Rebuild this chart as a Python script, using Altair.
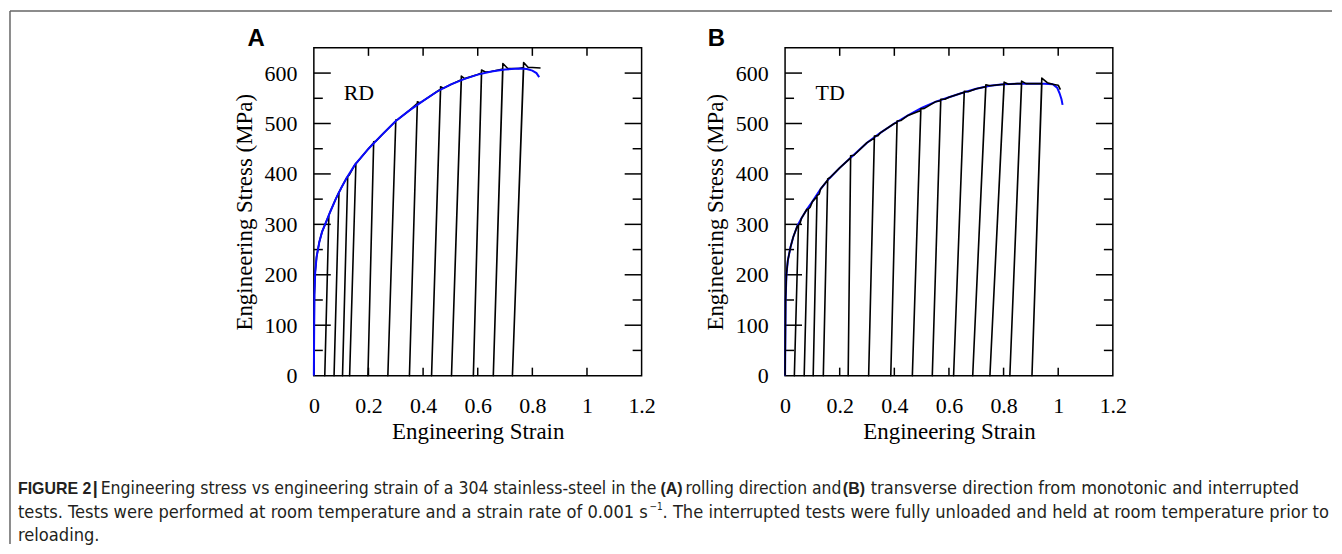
import altair as alt
import pandas as pd

# ---------------- data ----------------
# Panel A (RD): monotonic test (blue)
A_mono_strain = [0, 0.002, 0.005, 0.01, 0.02, 0.03, 0.045, 0.06, 0.08, 0.1, 0.12, 0.15, 0.2, 0.25,
                 0.3, 0.35, 0.4, 0.45, 0.5, 0.55, 0.6, 0.65, 0.7, 0.75, 0.78, 0.8, 0.815, 0.825]
A_mono_stress = [0, 160, 205, 235, 265, 285, 305, 325, 350, 372, 392, 418, 450, 478,
                 505, 526, 545, 563, 577, 588, 597, 603, 607, 609, 608, 605, 600, 592]
# Panel A interrupted test (black)
A_bottom = [0.040, 0.074, 0.105, 0.131, 0.198, 0.271, 0.350, 0.431, 0.504, 0.584, 0.657, 0.727]
A_top_strain = [0.055, 0.092, 0.124, 0.154, 0.219, 0.300, 0.379, 0.464, 0.540, 0.614, 0.692, 0.768]
A_pre_stress = [318, 364, 395, 421, 462, 505, 540, 568, 587, 600, 608, 611]
A_peak_stress = [318, 364, 395, 421, 464, 507, 543, 573, 594, 606, 619, 621]
A_settle_strain = [0.06, 0.097, 0.13, 0.16, 0.227, 0.308, 0.388, 0.474, 0.552, 0.628, 0.71, 0.785]
A_settle_stress = [325, 368, 398, 424, 465, 508, 541, 570, 589, 602, 609, 611]
A_tail_strain = [0.80, 0.83]
A_tail_stress = [611, 610]

# Panel B (TD): monotonic test (blue)
B_mono_strain = [0, 0.002, 0.005, 0.01, 0.02, 0.03, 0.045, 0.06, 0.08, 0.1, 0.13, 0.16, 0.2, 0.25,
                 0.3, 0.35, 0.4, 0.45, 0.5, 0.55, 0.6, 0.65, 0.7, 0.75, 0.8, 0.85, 0.9, 0.95,
                 0.98, 0.996, 1.005, 1.012, 1.016]
B_mono_stress = [0, 150, 200, 228, 255, 275, 297, 312, 330, 345, 370, 390, 412, 437,
                 462, 482, 500, 516, 531, 543, 552, 561, 569, 575, 578, 579, 579, 579,
                 578, 571, 560, 548, 537]
# Panel B interrupted test (black)
B_bottom = [0.034, 0.070, 0.103, 0.140, 0.231, 0.306, 0.387, 0.466, 0.539, 0.617, 0.687, 0.750, 0.823, 0.904]
B_top_strain = [0.049, 0.085, 0.117, 0.156, 0.240, 0.327, 0.410, 0.497, 0.570, 0.656, 0.735, 0.802, 0.866, 0.940]
B_pre_stress = [298, 328, 355, 388, 432, 471, 502, 526, 545, 561, 573, 578, 579, 579]
B_peak_stress = [298, 330, 357, 390, 436, 475, 505, 529, 548, 564, 577, 582, 584, 590]
B_settle_strain = [0.055, 0.092, 0.125, 0.165, 0.252, 0.34, 0.425, 0.51, 0.585, 0.67, 0.75, 0.818, 0.882, 0.96]
B_settle_stress = [302, 334, 360, 393, 437, 476, 506, 530, 548, 563, 575, 578, 579, 581]
B_tail_strain = [0.98, 1.0, 1.008]
B_tail_stress = [578, 576, 567]

X_TICK_LABELS = [0, 0.2, 0.4, 0.6, 0.8, 1, 1.2]
X_INNER_TICKS = [0.2, 0.4, 0.6, 0.8, 1.0]
Y_TICK_LABELS = [0, 100, 200, 300, 400, 500, 600]
Y_MAJOR_TICKS = [100, 200, 300, 400, 500, 600]
Y_MINOR_TICKS = [50, 150, 250, 350, 450, 550]

PANEL_LETTERS = ["A", "B"]
PANEL_TAGS = ["RD", "TD"]
TAG_POS = (0.165, 560)

CAPTION_1 = ["FIGURE 2",
             "|",
             "Engineering stress vs engineering strain of a 304 stainless-steel in the",
             "(A)", "rolling direction and", "(B)",
             "transverse direction from monotonic and interrupted"]
CAPTION_2 = ["tests. Tests were performed at room temperature and a strain rate of 0.001 s",
             "\u22121",
             ". The interrupted tests were fully unloaded and held at room temperature prior to"]
CAPTION_3 = "reloading."

# ---------------- helpers ----------------
W = 329
H = 329
SERIF = "Liberation Serif"
SANS_N = "DejaVu Sans Condensed"
SANS_B = "Liberation Sans"

X = alt.X("strain:Q", scale=alt.Scale(domain=[0, 1.2], nice=False),
          axis=alt.Axis(values=X_TICK_LABELS, format="~g", title="Engineering Strain",
                        labelPadding=20, titlePadding=4))
Y = alt.Y("stress:Q", scale=alt.Scale(domain=[0, 650], nice=False),
          axis=alt.Axis(values=Y_TICK_LABELS, format="d", title="Engineering Stress (MPa)",
                        labelPadding=17, titlePadding=8))


def build_path(mono_s, mono_y, bottom, top_s, pre, peak, set_s, set_y, tail_s, tail_y):
    pts = [(0.0, 0.0)]
    pts += [(s, y) for s, y in zip(mono_s, mono_y) if 0 < s < top_s[0]]
    n = len(bottom)
    for i in range(n):
        pts += [(top_s[i], pre[i]), (bottom[i], 0.0), (top_s[i], peak[i]), (set_s[i], set_y[i])]
        if i + 1 < n:
            pts += [(s, y) for s, y in zip(mono_s, mono_y) if set_s[i] < s < top_s[i + 1]]
        else:
            pts += list(zip(tail_s, tail_y))
    return pd.DataFrame({"strain": [p[0] for p in pts], "stress": [p[1] for p in pts],
                         "idx": list(range(len(pts)))})


def one_row():
    return pd.DataFrame({"k": [0]})


def panel(mono_s, mono_y, path_df, letter, tag, letter_dx, blue_on_top, extra=None):
    mono_df = pd.DataFrame({"strain": mono_s, "stress": mono_y, "idx": range(len(mono_s))})
    blue = alt.Chart(mono_df).mark_line(color="#0a0aff", strokeWidth=2).encode(
        x=X, y=Y, order="idx:Q")
    black = alt.Chart(path_df).mark_line(color="black", strokeWidth=1.6,
                                         strokeJoin="round").encode(
        x=X, y=Y, order="idx:Q")
    xt = pd.DataFrame({"strain": X_INNER_TICKS})
    ymaj = pd.DataFrame({"stress": Y_MAJOR_TICKS})
    ymin = pd.DataFrame({"stress": Y_MINOR_TICKS})
    tk = dict(color="black", strokeWidth=1.5)
    ticks = [
        alt.Chart(xt).mark_rule(**tk).encode(x=X, y=alt.value(H), y2=alt.value(H - 8)),
        alt.Chart(xt).mark_rule(**tk).encode(x=X, y=alt.value(0), y2=alt.value(8)),
        alt.Chart(ymaj).mark_rule(**tk).encode(y=Y, x=alt.value(0), x2=alt.value(17)),
        alt.Chart(ymaj).mark_rule(**tk).encode(y=Y, x=alt.value(W), x2=alt.value(W - 17)),
        alt.Chart(ymin).mark_rule(**tk).encode(y=Y, x=alt.value(0), x2=alt.value(9)),
        alt.Chart(ymin).mark_rule(**tk).encode(y=Y, x=alt.value(W), x2=alt.value(W - 9)),
    ]
    tag_df = pd.DataFrame({"strain": [TAG_POS[0]], "stress": [TAG_POS[1]], "label": [tag]})
    tag_txt = alt.Chart(tag_df).mark_text(font=SERIF, fontSize=22, color="black",
                                          align="center", baseline="middle").encode(
        x=X, y=Y, text="label:N")
    letter_txt = alt.Chart(one_row()).mark_text(
        font="Liberation Sans", fontSize=24, fontWeight="bold", color="black",
        align="center", baseline="middle").encode(
        x=alt.value(letter_dx), y=alt.value(-9), text=alt.value(letter))
    lines = [black, blue] if blue_on_top else [blue, black]
    layers = ticks + lines + [tag_txt, letter_txt] + (extra or [])
    return alt.layer(*layers).properties(width=W, height=H)


# caption + figure border, positioned relative to panel A plot origin
def cap(text, dx, dy, bold=False, size=17.4):
    return alt.Chart(one_row()).mark_text(
        font=SANS_B if bold else SANS_N, fontSize=size,
        fontWeight="bold" if bold else "normal",
        color="#231f20", align="left", baseline="middle").encode(
        x=alt.value(dx), y=alt.value(dy), text=alt.value(text))


OX, OY = 314, 46
L1, L2, L3 = 489, 513, 536
extra = [
    alt.Chart(one_row()).mark_rule(color="#666666", strokeWidth=1.5).encode(
        x=alt.value(9 - OX), y=alt.value(9 - OY), y2=alt.value(544 - OY)),
    alt.Chart(one_row()).mark_rule(color="#666666", strokeWidth=1.5).encode(
        x=alt.value(9 - OX), x2=alt.value(1336 - OX), y=alt.value(9 - OY)),
    cap(CAPTION_1[0], 17 - OX, L1 - OY, bold=True, size=16),
    cap(CAPTION_1[1], 92 - OX, L1 - OY, bold=True, size=18),
    cap(CAPTION_1[2], 100 - OX, L1 - OY, size=17.6),
    cap(CAPTION_1[3], 662 - OX, L1 - OY, bold=True, size=16),
    cap(CAPTION_1[4], 687 - OX, L1 - OY),
    cap(CAPTION_1[5], 845 - OX, L1 - OY, bold=True, size=16),
    cap(CAPTION_1[6], 873 - OX, L1 - OY, size=18.1),
    cap(CAPTION_2[0], 17 - OX, L2 - OY, size=18.2),
    cap(CAPTION_2[1], 651 - OX, L2 - 6 - OY, size=10),
    cap(CAPTION_2[2], 664 - OX, L2 - OY, size=18.2),
    cap(CAPTION_3, 17 - OX, L3 - OY, size=18.2),
]

pathA = build_path(A_mono_strain, A_mono_stress, A_bottom, A_top_strain, A_pre_stress,
                   A_peak_stress, A_settle_strain, A_settle_stress, A_tail_strain, A_tail_stress)
pathB = build_path(B_mono_strain, B_mono_stress, B_bottom, B_top_strain, B_pre_stress,
                   B_peak_stress, B_settle_strain, B_settle_stress, B_tail_strain, B_tail_stress)

pA = panel(A_mono_strain, A_mono_stress, pathA, PANEL_LETTERS[0], PANEL_TAGS[0], -58, True, extra)
pB = panel(B_mono_strain, B_mono_stress, pathB, PANEL_LETTERS[1], PANEL_TAGS[1], -69, False)

chart = alt.hconcat(pA, pB, spacing=144, bounds="flush").properties(
    padding=0, background="white"
).configure_view(stroke="black", strokeWidth=1.5).configure_axis(
    labelFont=SERIF, labelFontSize=22, labelColor="black",
    titleFont=SERIF, titleFontSize=23, titleFontWeight="normal", titleColor="black",
    domain=False, ticks=False, tickSize=0, grid=False, labelOverlap=False, labelFlush=False
)

chart.save("out.html", embed_options={"renderer": "svg", "actions": False})
